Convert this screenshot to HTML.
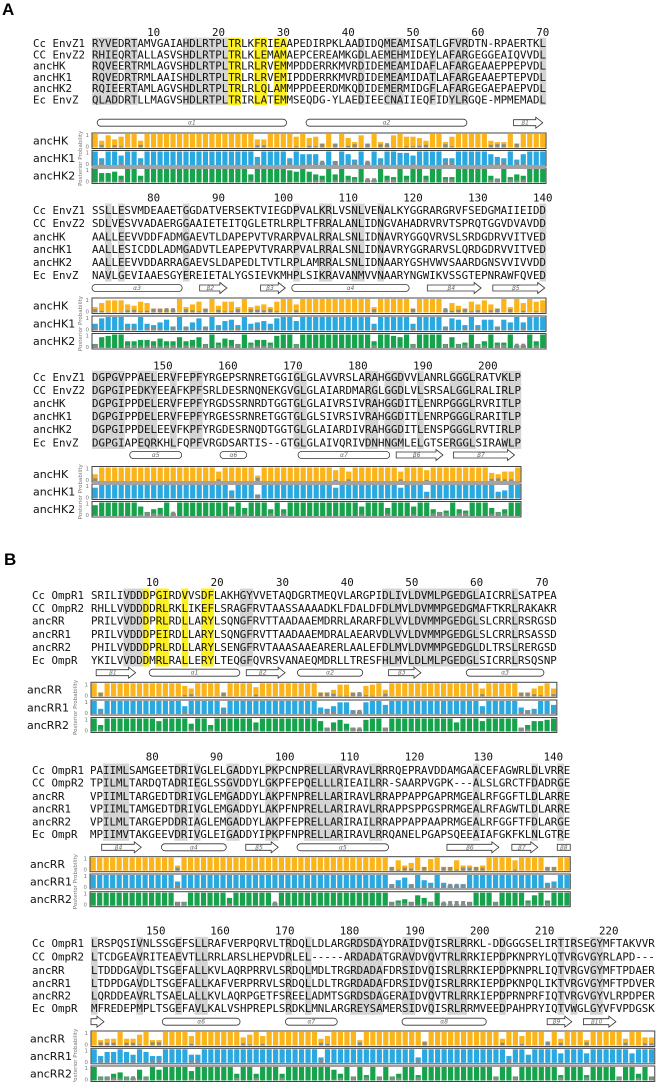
<!DOCTYPE html>
<html><head><meta charset="utf-8"><style>
html,body{margin:0;padding:0;background:#fff}
svg{display:block}
.seq{font-family:"DejaVu Sans Mono","Liberation Mono",monospace;font-size:10.8px;fill:#111}
.lbl{font-family:"DejaVu Sans","Liberation Sans",sans-serif;font-size:11px;fill:#111}
.pan{font-family:"Liberation Sans",sans-serif;font-size:17px;font-weight:bold;fill:#000}
.sl{font-family:"DejaVu Sans",sans-serif;font-size:6px;font-style:italic;fill:#666}
.pp{font-family:"DejaVu Sans",sans-serif;font-size:5.5px;fill:#777}
</style></head><body>
<svg id="fig" xmlns="http://www.w3.org/2000/svg" width="656" height="1082" viewBox="0 0 656 1082">
<text class="pan" x="2" y="15">A</text>
<text class="pan" x="4" y="565">B</text>
</svg>
<script>
// ---- sequence data ----
const namesA = ["Cc EnvZ1","CC EnvZ2","ancHK","ancHK1","ancHK2","Ec EnvZ"];
const namesB = ["Cc OmpR1","CC OmpR2","ancRR","ancRR1","ancRR2","Ec OmpR"];
const ancA = ["ancHK","ancHK1","ancHK2"];
const ancB = ["ancRR","ancRR1","ancRR2"];
const seqA1 = ["RYVEDRTAMVGAIAHDLRTPLTRLKFRIEAAPEDIRPKLAADIDQMEAMISATLGFVRDTN-RPAERTKL","RHIEQRTALLASVSHDLRTPLTRLKLEMAMAEPCEREAMKGDLAEMEHMIDEYLAFARGEGGEAIQVVDL","RQVEERTRMLAGVSHDLRTPLTRLRLRVEMMPDDERRKMVRDIDEMEAMIDAFLAFARGEAAEPPEPVDL","RQVEDRTRMLAAISHDLRTPLTRLRLRVEMIPDDERRKMVRDIDEMEAMIDATLAFARGEAAEPTEPVDL","RQIEERTAMLAGVSHDLRTPLTRLRLQLAMMPPDEERDMKQDIDEMERMIDGFLAFARGEGAEPAEPVDL","QLADDRTLLMAGVSHDLRTPLTRIRLATEMMSEQDG-YLAEDIEECNAIIEQFIDYLRGQE-MPMEMADL"];
const seqA2 = ["SSLLESVMDEAAETGGDATVERSEKTVIEGDPVALKRLVSNLVENALKYGGRARGRVFSEDGMAIIEIDD","SDLVESVVADAERGGAAIETEITQGLETRLRPLTFRRALANLIDNGVAHADRVRVTSPRQTGGVDVAVDD","AALLEEVVDDFADMGAEVTLDAPEPVTVRARPVALRRALSNLIDNAVRYGGQVRVSLSRDGDRVVITVED","AALLESICDDLADMGADVTLEAPEPVTVRARPVALRRALSNLIDNAVRYGGRARVSLQRDGDRVVITVED","AALLEEVVDDARRAGAEVSLDAPEDLTVTLRPLAMRRALSNLIDNAARYGSHVWVSAARDGNSVVIVVDD","NAVLGEVIAAESGYEREIETALYGSIEVKMHPLSIKRAVANMVVNAARYNGWIKVSSGTEPNRAWFQVED"];
const seqA3 = ["DGPGVPPAELERVFEPFYRGEPSRNRETGGIGLGLAVVRSLARAHGGDVVLANRLGGGLRATVKLP","DGPGIPEDKYEEAFKPFSRLDESRNQNEKGVGLGLAIARDMARGLGGDLVLSRSALGGLRALIRLP","DGPGIPPDELERVFEPFYRGDSSRNRDTGGTGLGLAIVRSIVRAHGGDITLENRPGGGLRVRITLP","DGPGIPPDELERVFEPFYRGESSRNRETGGTGLGLSIVRSIVRAHGGDITLENRPGGGLRARITLP","DGPGIPPDELEEVFKPFYRGDESRNQDTGGTGLGLAIARDIVRAHGGDITLENSPGGGLRVTIRLP","DGPGIAPEQRKHLFQPFVRGDSARTIS--GTGLGLAIVQRIVDNHNGMLELGTSERGGLSIRAWLP"];
const seqB1 = ["SRILIVDDDPGIRDVVSDFLAKHGYVVETAQDGRTMEQVLARGPIDLIVLDVMLPGEDGLAICRRLSATPEA","RHLLVVDDDDRLRKLIKEFLSRAGFRVTAASSAAAADKLFDALDFDLMVLDVMMPGEDGMAFTKRLRAKAKR","PRILVVDDDPRLRDLLARYLSQNGFRVTTAADAAEMDRRLARARFDLVVLDVMMPGEDGLSLCRRLRSRGSD","PRILVVDDDPEIRDLLARYLSQNGFRVTTAADAAEMDRALAEARVDLVVLDVMMPGEDGLSLCRRLRSASSD","PHILVVDDDPRLRDLLARYLSENGFRVTAAASAAEARERLAALEFDLMVLDVMMPGEDGLDLTRSLRERGSD","YKILVVDDDMRLRALLERYLTEQGFQVRSVANAEQMDRLLTRESFHLMVLDLMLPGEDGLSICRRLRSQSNP"];
const seqB2 = ["PAIIMLSAMGEETDRIVGLELGADDYLPKPCNPRELLARVRAVLRRRQEPRAVDDAMGAACEFAGWRLDLVRRE","TPILMLTARDQTADRIEGLSSGVDDYLGKPFEPQELLLRIEAILRR-SAARPVGPK---ALSLGRCTFDADRGE","VPIIMLTARGEDTDRIVGLEMGADDYLAKPFNPRELLARIRAVLRRAPPAPPGAPRMGEALRFGGFTLDLARRE","VPIIMLTAMGEDTDRIVGLEMGADDYLAKPFNPRELLARIRAVLRRAPPSPPGSPRMGEALRFAGWTLDLARRE","VPILMLTARGEPDDRIAGLEMGADDYLAKPFEPRELLARIRAILRRAPPAPPAAPRMGEALRFGGFTFDLARGE","MPIIMVTAKGEEVDRIVGLEIGADDYIPKPFNPRELLARIRAVLRRQANELPGAPSQEEAIAFGKFKLNLGTRE"];
const seqB3 = ["LRSPQSIVNLSSGEFSLLRAFVERPQRVLTRDQLLDLARGRDSDAYDRAIDVQISRLRRKL-DDGGGSELIRTIRSEGYMFTAKVVR","LTCDGEAVRITEAEVTLLRRLARSLHEPVDRLEL-----ARDADATGRAVDVQVTRLRRKIEPDPKNPRYLQTVRGVGYRLAPD---","LTDDDGAVDLTSGEFALLKVLAQRPRRVLSRDQLMDLTRGRDADAFDRSIDVQISRLRRKIEPDPKNPRLIQTVRGVGYMFTPDAER","LTDPDGAVDLTSGEFALLKAFVERPRRVLSRDQLLDLTRGRDADAFDRSIDVQISRLRRKIEPDPKNPQLIKTVRGVGYMFTPDVER","LQRDDEAVRLTSAELALLKVLAQRPGETFSREELADMTSGRDSDAGERAIDVQVTRLRRKIEPDPRNPRFIQTVRGVGYVLRPDPER","MFREDEPMPLTSGEFAVLKALVSHPREPLSRDKLMNLARGREYSAMERSIDVQISRLRRMVEEDPAHPRYIQTVWGLGYVFVPDGSK"];
// ---- tick labels (position numbers) and their column index ----
const ticksA1 = [10,20,30,40,50,60,70];
const tickColA1 = [9.5,19.5,29.5,39.5,49.5,59.5,69.5];
const ticksA2 = [80,90,100,110,120,130,140];
const tickColA2 = [9.5,19.5,29.5,39.5,49.5,59.5,69.5];
const ticksA3 = [150,160,170,180,190,200];
const tickColA3 = [10.9,20.9,30.9,40.9,50.9,60.9];
const ticksB1 = [10,20,30,40,50,60,70];
const tickColB1 = [9.5,19.5,29.6,39.6,49.6,59.6,69.7];
const ticksB2 = [80,90,100,110,120,130,140];
const tickColB2 = [9.6,19.5,30,40,50,60.6,71.4];
const ticksB3 = [150,160,170,180,190,200,210,220];
const tickColB3 = [10,19.9,29.9,39.9,50,60,70,79.9];
// ---- conserved (gray) and functional (yellow) columns ----
const grayA1 = [0,1,2,3,5,6,14,15,16,17,18,19,20,41,45,46,47,52,55,56,57,69];
const yellowA1 = [21,22,25,26,28,29];
const grayA2 = [2,4,14,31,35,36,40,41,44,69];
const grayA3 = [0,1,2,3,4,7,8,9,12,15,16,31,32,42,43,45,46,47,50,55,56,57,58,63,64,65];
const grayB1 = [5,6,7,23,24,45,46,47,49,50,51,52,53,54,55,56,57,58,59,65];
const yellowB1 = [8,10,11,14,17,18];
const grayB2 = [2,3,4,5,13,14,16,21,22,27,28,33,34,35,36,37,38,43,44,59,68,72];
const grayB3 = [0,7,13,16,17,30,33,40,41,42,43,44,48,49,52,55,56,57,63,72,74,77,78];
// ---- secondary structure: [type, startCol, endCol, label] ----
const structA1 = [["h",0.8,30,"α1"],["h",33,57.8,"α2"],["s",65,69.5,"β1"]];
const structA2 = [["h",0,13.9,"α3"],["s",16.6,20.8,"β2"],["s",26,29.8,"β3"],["h",30.8,48.9,"α4"],["s",51.7,60,"β4"],["s",61.8,69.8,"β5"]];
const structA3 = [["h",5.8,13.8,"α5"],["h",19.7,23.8,"α6"],["h",31.7,45.8,"α7"],["s",46.8,54,"β6"],["s",55.6,65,"β7"]];
const structB1 = [["s",0.8,6.9,"β1"],["h",9,23,"α1"],["s",24,30,"β2"],["h",31.9,42,"α2"],["s",46,51,"β3"],["h",58,70,"α3"]];
const structB2 = [["s",1.8,7.9,"β4"],["h",11,21,"α4"],["s",24,29,"β5"],["h",31.9,46,"α5"],["s",55,63,"β6"],["s",65,69,"β7"],["b",72,74,"β8"]];
const structB3 = [["s",0,2,""],["h",11,23,"α6"],["h",30,38,"α7"],["h",48,61,"α8"],["s",70.4,74.2,"β9"],["s",76,81,"β10"]];
// ---- posterior probabilities (tenths) ----
const ppA1_0 = [10,5,9,6,8,10,10,5,10,10, 10,10,10,10,10,10,10,10,10,10, 10,10,10,10,10,6,6,10,10,10, 10,8,10,7,8,3,10,3,10,7, 4,9,3,10,4,2,9,10,8,8, 7,5,10,10,4,8,10,10,10,10, 10,5,4,4,10,3,10,10,10,10];
const ppA1_1 = [10,5,10,10,7,10,10,5,10,10, 10,10,10,10,10,10,10,10,10,10, 10,10,10,10,10,6,10,10,10,10, 5,10,8,8,8,2,10,3,10,8, 4,10,2,10,5,10,10,9,9,7, 10,10,10,10,5,5,10,10,10,10, 10,8,6,5,10,4,8,10,10,10];
const ppA1_2 = [10,7,7,8,5,10,10,5,10,10, 10,10,10,10,10,10,10,10,10,10, 10,10,10,10,6,10,10,10,10,10, 9,8,10,8,6,5,10,6,10,5, 4,10,2,2,10,5,4,10,5,10, 10,5,10,10,4,4,10,10,10,10, 10,5,3,10,4,6,5,10,10,10];
const ppA2_0 = [4,7,9,9,9,6,5,8,7,3, 3,2,2,10,4,6,8,3,10,5, 8,8,4,10,4,5,6,4,8,10, 10,6,10,10,10,10,10,10,10,10, 10,10,10,4,10,10,10,10,10,3, 10,10,10,10,2,7,5,3,8,6, 9,6,3,10,4,10,7,10,8,9];
const ppA2_1 = [5,9,10,10,10,5,5,10,5,4, 6,8,3,10,3,6,9,3,10,4, 7,8,4,10,5,6,7,5,9,10, 10,7,10,10,10,10,10,10,10,10, 10,10,10,5,10,10,10,10,10,5, 10,10,10,10,3,9,8,4,10,4, 8,8,3,8,6,10,6,10,10,10];
const ppA2_2 = [3,8,9,10,10,5,5,6,6,5, 7,5,5,8,5,6,8,3,10,4, 7,6,3,10,4,6,6,4,9,10, 10,3,10,10,10,10,10,10,10,10, 10,10,10,5,10,10,9,8,10,3, 10,10,10,10,3,8,3,4,10,3, 5,10,4,4,10,2,2,10,5,10];
const ppA3_0 = [5,10,10,10,10,10,10,10,10,10, 10,10,10,10,10,10,10,10,10,7, 10,10,10,10,10,4,10,10,10,10, 10,10,10,10,10,10,10,8,10,7, 10,10,10,10,10,10,10,7,10,10, 10,8,10,10,10,10,10,10,10,10, 10,6,5,7,7,10];
const ppA3_1 = [8,10,10,10,10,10,10,10,10,10, 10,10,10,10,10,10,10,10,10,10, 10,6,10,10,10,3,10,10,10,10, 10,10,10,10,10,10,10,8,10,10, 10,10,10,10,10,10,10,8,10,10, 10,5,10,10,10,10,10,10,10,10, 10,10,5,6,10,10];
const ppA3_2 = [8,10,10,10,10,10,10,7,3,5, 6,10,2,10,10,10,10,10,10,10, 10,7,10,6,10,10,10,5,10,5, 10,10,10,10,10,10,10,10,10,10, 10,7,10,10,10,6,10,10,10,7, 10,10,5,3,4,10,5,4,10,10, 10,6,3,5,10,10];
const ppB1_0 = [10,3,10,10,10,10,10,10,10,10, 10,10,10,10,8,6,10,10,10,10, 3,10,10,10,10,7,10,10,10,10, 10,10,10,10,10,3,3,5,9,9, 3,2,8,9,10,5,10,10,10,10, 10,10,10,10,10,10,10,10,10,10, 6,10,10,10,10,10,3,3,6,8, 10,6];
const ppB1_1 = [10,4,10,10,10,10,10,10,10,10, 10,10,10,10,6,10,10,10,10,10, 5,10,10,10,10,10,10,10,10,10, 10,10,10,10,10,5,4,6,9,9, 3,2,9,10,10,7,10,10,10,10, 10,10,10,10,10,10,10,10,10,10, 6,10,10,10,10,10,5,3,4,10, 10,7];
const ppB1_2 = [10,5,10,10,10,10,10,10,10,10, 8,10,10,10,10,6,10,10,5,10, 10,10,10,10,10,7,10,10,10,10, 10,10,10,10,10,8,3,7,9,6, 3,2,9,10,10,3,10,10,10,10, 10,10,10,10,10,10,7,10,10,10, 8,10,10,10,10,10,3,5,8,8, 9,10];
const ppB2_0 = [10,10,10,10,10,10,10,10,10,10, 10,10,10,4,10,10,10,10,10,10, 10,10,10,10,10,10,10,10,10,10, 10,10,10,10,10,10,10,10,10,10, 10,10,10,10,10,10,3,8,4,6, 10,3,9,10,3,3,8,4,4,3, 4,10,10,10,10,8,10,10,10,10, 3,3,10,10];
const ppB2_1 = [10,10,10,10,10,10,10,10,10,10, 10,10,10,5,10,10,10,10,10,10, 10,10,10,10,10,10,10,10,10,10, 10,10,10,10,10,10,10,10,10,10, 10,10,10,10,10,10,3,6,8,3, 10,6,4,10,4,2,2,3,10,10, 10,10,10,10,10,10,10,10,10,10, 4,5,10,10];
const ppB2_2 = [10,10,10,10,10,10,10,10,10,10, 10,10,10,3,3,10,10,10,10,10, 10,6,10,10,10,10,10,10,2,10, 10,10,10,10,10,10,10,10,10,10, 10,10,10,10,10,10,3,4,5,3, 8,6,3,10,2,1,1,1,3,10, 10,10,3,10,10,10,10,4,8,10, 4,10,10,10];
const ppB3_0 = [10,4,5,5,10,5,5,8,10,4, 4,10,10,10,10,7,10,10,10,10, 10,10,10,6,8,10,7,10,10,10, 10,10,10,10,10,5,7,10,10,10, 10,4,10,10,10,10,10,10,10,10, 10,3,10,10,10,10,10,10,10,10, 10,10,10,5,10,10,7,10,10,10, 3,10,5,10,10,10,4,10,10,10, 10,10,5,10,10,6,6];
const ppB3_1 = [10,5,8,8,10,8,6,10,8,5, 5,10,10,10,10,6,6,10,10,10, 10,10,10,10,10,10,10,10,10,10, 10,10,10,10,10,4,10,10,10,10, 10,10,10,10,10,10,10,10,10,10, 4,10,10,10,10,10,10,10,10,10, 10,10,10,10,5,10,10,6,10,10, 10,10,7,10,10,10,7,10,10,10, 10,10,10,7,10,10,10];
const ppB3_2 = [10,3,3,5,6,3,2,8,3,10, 8,10,10,10,10,7,10,10,10,10, 10,10,5,10,10,5,10,10,10,5, 10,10,10,10,10,10,10,8,5,10, 3,10,4,10,3,10,3,5,10,10, 4,10,10,10,10,10,10,10,10,10, 10,10,3,10,10,3,10,10,10,10, 10,10,4,10,10,10,4,10,10,10, 10,3,10,10,5,10,3];

const COLORS = ["#fbb41a","#2aa8e0","#17a34b"];
const blocks = [
 {id:"a1",names:namesA,anc:ancA,seqs:seqA1,x0:92,cw:6.486,ticks:ticksA1,tcol:tickColA1,tickY:36,rows:[43.3,54.4,65.7,77,88.3,99.4],rowH:11.3,structY:122.7,st:structA1,gray:grayA1,yel:yellowA1,tracks:[133,150.5,168],th:15.5,pp:[ppA1_0,ppA1_1,ppA1_2],lx:33,tx:33,ppx:82},
 {id:"a2",names:namesA,anc:ancA,seqs:seqA2,x0:92,cw:6.486,ticks:ticksA2,tcol:tickColA2,tickY:201.5,rows:[210,223.3,236.7,249.3,262,275],rowH:13,structY:288,st:structA2,gray:grayA2,yel:[],tracks:[298,316,333.5],th:15.5,pp:[ppA2_0,ppA2_1,ppA2_2],lx:33,tx:33,ppx:82},
 {id:"a3",names:namesA,anc:ancA,seqs:seqA3,x0:92,cw:6.5,ticks:ticksA3,tcol:tickColA3,tickY:369.5,rows:[377.3,390.3,403.3,416.3,429.3,442.5],rowH:13,structY:455,st:structA3,gray:grayA3,yel:[],tracks:[466.5,484,501.5],th:15.5,pp:[ppA3_0,ppA3_1,ppA3_2],lx:33,tx:33,ppx:82},
 {id:"b1",names:namesB,anc:ancB,seqs:seqB1,x0:91,cw:6.47,ticks:ticksB1,tcol:tickColB1,tickY:586,rows:[595,608.3,620.7,634.3,647.3,660],rowH:13,structY:672.7,st:structB1,gray:grayB1,yel:yellowB1,tracks:[682.3,700,717.5],th:15,pp:[ppB1_0,ppB1_1,ppB1_2],lx:32,tx:27,ppx:77},
 {id:"b2",names:namesB,anc:ancB,seqs:seqB2,x0:90,cw:6.49,ticks:ticksB2,tcol:tickColB2,tickY:760.5,rows:[770,782.7,796,808.7,821.7,834.3],rowH:13,structY:847.3,st:structB2,gray:grayB2,yel:[],tracks:[856.7,874,891.7],th:15,pp:[ppB2_0,ppB2_1,ppB2_2],lx:32,tx:30,ppx:77},
 {id:"b3",names:namesB,anc:ancB,seqs:seqB3,x0:91,cw:6.48,ticks:ticksB3,tcol:tickColB3,tickY:934.5,rows:[943.3,956.7,970,983.3,995.7,1008.3],rowH:13,structY:1021.7,st:structB3,gray:grayB3,yel:[],tracks:[1031,1048.3,1066],th:15.5,pp:[ppB3_0,ppB3_1,ppB3_2],lx:32,tx:30,ppx:77}
];
const NS="http://www.w3.org/2000/svg";
const svg=document.getElementById("fig");
function mk(tag,attrs,parent){const e=document.createElementNS(NS,tag);for(const k in attrs)e.setAttribute(k,attrs[k]);(parent||svg).appendChild(e);return e;}
function xCol(b,i){return b.x0+i*b.cw;}
function yProb(top,h,v){return top+h-1-(v/10)*(h-2);}

blocks.forEach(b=>{
  const g=mk("g",{});
  
  
  const n=b.seqs[0].length;
  const top=b.rows[0]-b.rowH/2, bot=b.rows[5]+b.rowH/2;
  b.gray.forEach(c=>{
    const r=mk("rect",{x:xCol(b,c),y:top,width:b.cw+0.2,height:bot-top,fill:"#d5d5d5"},g);
    
    
  });
  b.yel.forEach(c=>{
    const r=mk("rect",{x:xCol(b,c),y:top,width:b.cw+0.2,height:bot-top,fill:"#fdf020"},g);
    
    
  });
  b.ticks.forEach((t,i)=>{
    const e=mk("text",{x:xCol(b,b.tcol[i]),y:b.tickY,"text-anchor":"middle",class:"seq"},g);
    e.textContent=t;
    
    
  });
  b.seqs.forEach((s,i)=>{
    const l=mk("text",{x:b.lx,y:b.rows[i]+3.9,class:"seq"},g);
    l.textContent=b.names[i];
    
    
    const e=mk("text",{x:b.x0,y:b.rows[i]+3.9,class:"seq",textLength:(s.length*b.cw).toFixed(1),lengthAdjust:"spacing"},g);
    e.textContent=s;
    
    
  });
  b.st.forEach(s=>{
    const x1=xCol(b,s[1]),x2=xCol(b,s[2]),y=b.structY;let e;
    if(s[0]==="h"){e=mk("rect",{x:x1,y:y-3.5,width:x2-x1,height:7,rx:3.5,fill:"#fff",stroke:"#333","stroke-width":0.8},g);}
    else if(s[0]==="b"){e=mk("rect",{x:x1,y:y-3,width:x2-x1,height:6,fill:"#fff",stroke:"#333","stroke-width":0.8},g);}
    else {const hx=x2-Math.min(7,(x2-x1)*0.6);e=mk("polygon",{points:`${x1},${y-3} ${hx},${y-3} ${hx},${y-5.5} ${x2},${y} ${hx},${y+5.5} ${hx},${y+3} ${x1},${y+3}`,fill:"#fff",stroke:"#333","stroke-width":0.8},g);}
    
    
    if(s[3]){const t=mk("text",{x:(x1+x2)/2-(s[0]==="s"?3:0),y:y+2,"text-anchor":"middle",class:"sl"},g);t.textContent=s[3];
      
      }
  });
  const pl=mk("text",{x:b.ppx,y:(b.tracks[0]+b.tracks[2]+b.th)/2,class:"pp","text-anchor":"middle",transform:`rotate(-90 ${b.ppx} ${(b.tracks[0]+b.tracks[2]+b.th)/2})`},g);
  pl.textContent="Posterior Probability";
  
  
  b.tracks.forEach((ty,k)=>{
    const lab=mk("text",{x:b.tx,y:ty+b.th/2+3.8,class:"lbl"},g);
    lab.textContent=b.anc[k];
    
    
    ["1","0"].forEach((tv,j)=>{const t=mk("text",{x:b.x0-3,y:j?ty+b.th:ty+4,class:"pp","text-anchor":"end","font-size":"4.5px"},g);t.textContent=tv;
      
      });
    const arr=b.pp[k];
    arr.slice(0,n).forEach((v,i)=>{
      const x=xCol(b,i)+0.6,w=b.cw-1.3,yb=yProb(ty,b.th,0),yt=yProb(ty,b.th,v);
      const r=mk("rect",{x:x,y:yt,width:w,height:yb-yt,fill:COLORS[k]},g);
      
      
      if(v<10){const alt=(10-v)*0.4;const ya=yProb(ty,b.th,alt);
        const a=mk("rect",{x:x+0.6,y:ya,width:w-1.2,height:yb-ya,fill:"#8a8a8a"},g);
        
        }
    });
    const box=mk("rect",{x:b.x0,y:ty,width:n*b.cw,height:b.th,fill:"none",stroke:"#444","stroke-width":1},g);
    
    
  });
});
</script>
</body></html>
